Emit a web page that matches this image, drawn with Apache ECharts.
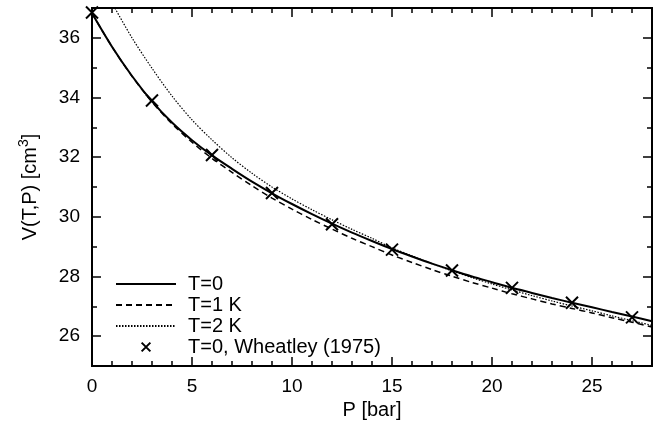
<!DOCTYPE html>
<html>
<head>
<meta charset="utf-8">
<script src="https://cdn.jsdelivr.net/npm/echarts@6/dist/echarts.min.js"></script>
<style>
html,body{margin:0;padding:0;background:#fff;}
#chart{width:658px;height:428px;}
</style>
</head>
<body>
<div id="chart"></div>
<script>
// ---- data ----
const P_curve = [0,1,2,3,4,5,6,7,8,9,10,11,12,13,14,15,16,17,18,19,20,21,22,23,24,25,26,27,28];
const V_T0 = [36.82,35.70,34.72,33.87,33.16,32.57,32.06,31.61,31.18,30.79,30.43,30.09,29.77,29.47,29.19,28.92,28.67,28.43,28.21,28.00,27.81,27.62,27.45,27.28,27.12,26.97,26.81,26.66,26.50];
const V_T1 = [36.82,35.70,34.71,33.85,33.12,32.50,31.96,31.49,31.04,30.63,30.26,29.91,29.59,29.28,29.00,28.72,28.47,28.23,28.01,27.80,27.61,27.42,27.25,27.08,26.93,26.78,26.62,26.47,26.31];
const P_T2 = [1,2,3,4,5,6,7,8,9,10,11,12,13,14,15,16,17,18,19,20,21,22,23,24,25,26,27,28];
const V_T2 = [37.17,36.00,34.98,34.05,33.25,32.58,31.98,31.46,31.00,30.60,30.24,29.90,29.58,29.28,28.96,28.69,28.43,28.19,27.96,27.75,27.55,27.36,27.18,27.01,26.85,26.68,26.52,26.36];
const P_wheatley = [0,3,6,9,12,15,18,21,24,27];
const V_wheatley = [36.85,33.90,32.07,30.80,29.75,28.90,28.20,27.62,27.12,26.63];
const xMajor = [0,5,10,15,20,25];
const xMinor = [1,2,3,4,6,7,8,9,11,12,13,14,16,17,18,19,21,22,23,24,26,27];
const yMajor = [26,28,30,32,34,36];
const yMinor = [25,27,29,31,33,35,37];
const seriesNames = ['T=0','T=1 K','T=2 K','T=0, Wheatley (1975)'];

const zip = (xs, ys) => xs.map((x, i) => [x, ys[i]]);
const FONT = 'Liberation Sans, Arial, Helvetica, sans-serif';
const crossPath = 'path://M0,0L10,10M10,0L0,10';
const legendCross = 'path://M0,0M16,16M3,3L13,13M13,3L3,13';

function xAx(pos, ticks, len, labels) {
  return {
    type: 'value', position: pos, min: 0, max: 28, interval: 1,
    gridIndex: 0,
    axisLine: {show: true, onZero: false, lineStyle: {color: '#000', width: 2}},
    axisTick: {show: true, inside: true, length: len, customValues: ticks, lineStyle: {color: '#000', width: 1.5}},
    axisLabel: labels ? {show: true, customValues: xMajor, color: '#000', fontSize: 19, fontFamily: FONT, margin: 11} : {show: false},
    splitLine: {show: false},
    name: labels ? 'P [bar]' : '',
    nameLocation: 'middle', nameGap: 32,
    nameTextStyle: {color: '#000', fontSize: 20, fontFamily: FONT}
  };
}
function yAx(pos, ticks, len, labels) {
  return {
    type: 'value', position: pos, min: 25, max: 37, interval: 1,
    gridIndex: 0,
    axisLine: {show: true, onZero: false, lineStyle: {color: '#000', width: 2}},
    axisTick: {show: true, inside: true, length: len, customValues: ticks, lineStyle: {color: '#000', width: 1.5}},
    axisLabel: labels ? {show: true, customValues: yMajor, color: '#000', fontSize: 19, fontFamily: FONT, margin: 12} : {show: false},
    splitLine: {show: false},
    name: labels ? '{a|V(T,P) [cm}{s|3}{a|]}' : '',
    nameLocation: 'middle', nameGap: 52, nameRotate: 90,
    nameTextStyle: {color: '#000', fontFamily: FONT,
      rich: {
        a: {fontSize: 20, fontFamily: FONT, color: '#000', lineHeight: 24, verticalAlign: 'bottom'},
        s: {fontSize: 14, fontFamily: FONT, color: '#000', lineHeight: 24, verticalAlign: 'bottom', padding: [0, 0, 9, 0]}
      }}
  };
}

const hideSym = {opacity: 0};
const chart = echarts.init(document.getElementById('chart'), null, {renderer: 'canvas'});
chart.setOption({
  animation: false,
  backgroundColor: '#fff',
  grid: {left: 92, right: 6, top: 8, bottom: 62, containLabel: false},
  xAxis: [
    xAx('bottom', xMajor, 9, true),
    xAx('bottom', xMinor, 5, false),
    xAx('top', xMajor, 9, false),
    xAx('top', xMinor, 5, false)
  ],
  yAxis: [
    yAx('left', yMajor, 9, true),
    yAx('left', yMinor, 5, false),
    yAx('right', yMajor, 9, false),
    yAx('right', yMinor, 5, false)
  ],
  legend: {
    orient: 'vertical', left: 115, top: 274, padding: 0,
    itemWidth: 60, itemHeight: 14, itemGap: 1,
    textStyle: {color: '#000', fontSize: 20, fontFamily: FONT, padding: [0, 0, 0, 7]},
    data: [
      {name: seriesNames[0], itemStyle: hideSym},
      {name: seriesNames[1], itemStyle: hideSym},
      {name: seriesNames[2], itemStyle: hideSym},
      {name: seriesNames[3], icon: legendCross, itemStyle: {color: 'rgba(0,0,0,0)', borderColor: '#000', borderWidth: 2, opacity: 1}}
    ]
  },
  series: [
    {name: seriesNames[0], type: 'line', data: zip(P_curve, V_T0), smooth: 0.3, symbol: 'none',
     lineStyle: {color: '#000', width: 2, type: 'solid'}, itemStyle: {color: '#000'}, z: 5},
    {name: seriesNames[1], type: 'line', data: zip(P_curve, V_T1), smooth: 0.3, symbol: 'none',
     lineStyle: {color: '#000', width: 1.5, type: [6, 4]}, itemStyle: {color: '#000'}, z: 4},
    {name: seriesNames[2], type: 'line', data: zip(P_T2, V_T2), smooth: 0.3, symbol: 'none',
     lineStyle: {color: '#000', width: 1.2, type: [1.5, 1.5]}, itemStyle: {color: '#000'}, z: 3},
    {name: seriesNames[3], type: 'scatter', data: zip(P_wheatley, V_wheatley),
     symbol: crossPath, symbolSize: 12,
     itemStyle: {color: 'rgba(0,0,0,0)', borderColor: '#000', borderWidth: 2, opacity: 1}, z: 6}
  ]
});
</script>
</body>
</html>
